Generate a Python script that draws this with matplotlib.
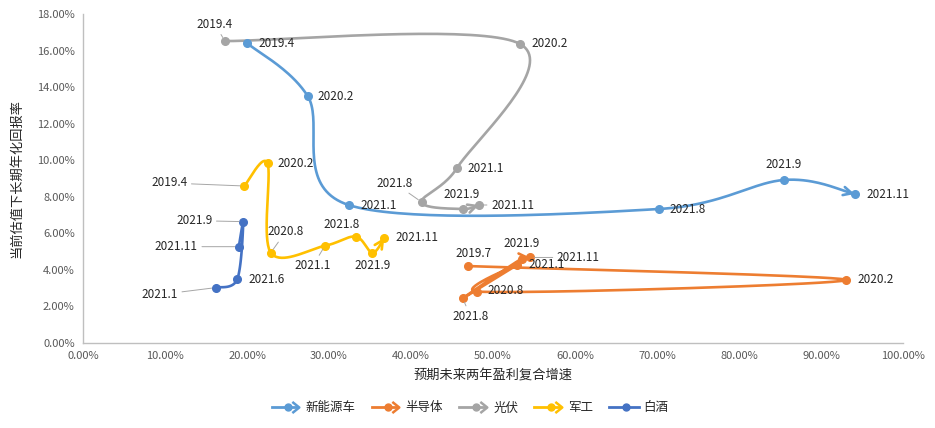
import matplotlib
matplotlib.use("Agg")
import matplotlib.pyplot as plt
import numpy as np
from matplotlib.lines import Line2D
from matplotlib.path import Path
from matplotlib.legend_handler import HandlerBase
from matplotlib.ticker import FuncFormatter, MultipleLocator

plt.rcParams["font.family"] = ["Noto Sans CJK SC", "DejaVu Sans"]

# data (x: expected 2y earnings growth %, y: long-term annualised return %)
nev_dates = ["2019.4", "2020.2", "2021.1", "2021.8", "2021.9", "2021.11"]
nev_x = [20.0, 27.4, 32.4, 70.2, 85.5, 94.1]
nev_y = [16.41, 13.51, 7.55, 7.33, 8.92, 8.15]

semi_dates = ["2019.7", "2020.2", "2020.8", "2021.1", "2021.8", "2021.9", "2021.11"]
semi_x = [46.9, 93.05, 48.1, 52.96, 46.3, 53.5, 54.5]
semi_y = [4.21, 3.45, 2.81, 4.27, 2.44, 4.62, 4.68]

pv_dates = ["2019.4", "2020.2", "2021.1", "2021.8", "2021.9", "2021.11"]
pv_x = [17.3, 53.3, 45.6, 41.3, 46.3, 48.3]
pv_y = [16.52, 16.36, 9.57, 7.71, 7.33, 7.55]

mil_dates = ["2019.4", "2020.2", "2020.8", "2021.1", "2021.8", "2021.9", "2021.11"]
mil_x = [19.67, 22.5, 22.9, 29.5, 33.25, 35.3, 36.75]
mil_y = [8.59, 9.83, 4.94, 5.32, 5.82, 4.94, 5.76]

liq_dates = ["2021.1", "2021.6", "2021.9", "2021.11"]
liq_x = [16.2, 18.8, 19.55, 19.0]
liq_y = [3.03, 3.48, 6.64, 5.27]

series = [
    ("新能源车", nev_dates, nev_x, nev_y, "#5B9BD5", True),
    ("半导体", semi_dates, semi_x, semi_y, "#ED7D31", True),
    ("光伏", pv_dates, pv_x, pv_y, "#A5A5A5", True),
    ("军工", mil_dates, mil_x, mil_y, "#FFC000", True),
    ("白酒", liq_dates, liq_x, liq_y, "#4472C4", False),
]

# label offsets in pixels (dx, dy, ha, leader line)
label_pos = {
    "新能源车": [(11, 0, "left", False), (10, 0, "left", False), (12, 0, "left", False),
             (11, 0, "left", False), (0, 15, "center", False), (12, 0, "left", False)],
    "半导体": [(6, 13, "center", False), (11, 0, "left", False), (10, 1, "left", False),
            (11, 0, "left", False), (8, -18, "center", True), (0, 15, "center", False),
            (27, 0, "left", True)],
    "光伏": [(-10, 17, "center", True), (11, 0, "left", False), (11, 0, "left", False),
           (-9, 19, "right", True), (-1, 15, "center", False), (12, 0, "left", True)],
    "军工": [(-57, 3, "right", True), (10, 0, "left", False), (15, 21, "center", True),
           (-12, -20, "center", True), (-14, 12, "center", False), (0, -13, "center", False),
           (11, 0, "left", False)],
    "白酒": [(-38, -7, "right", True), (11, 0, "left", False), (-31, 1, "right", True),
           (-41, 0, "right", True)],
}


def smooth(pts, n=40):
    # Excel-like bezier smoothing in display space
    pts = np.asarray(pts, dtype=float)
    ext = np.vstack([pts[0], pts, pts[-1]])
    out = []
    for i in range(1, len(ext) - 2):
        p0, p1, p2, p3 = ext[i - 1], ext[i], ext[i + 1], ext[i + 2]
        seg_len = np.hypot(*(p2 - p1))
        t1 = p2 - p0
        t2 = p3 - p1
        l1 = np.hypot(*t1)
        l2 = np.hypot(*t2)
        c1 = p1 + (t1 / l1 * min(l1 / 6, seg_len / 2) if l1 > 0 else 0)
        c2 = p2 - (t2 / l2 * min(l2 / 6, seg_len / 2) if l2 > 0 else 0)
        t = np.linspace(0, 1, n)[:, None]
        seg = ((1 - t) ** 3) * p1 + 3 * ((1 - t) ** 2) * t * c1 + 3 * (1 - t) * t ** 2 * c2 + t ** 3 * p2
        out.append(seg if i == 1 else seg[1:])
    return np.vstack(out)


chevron = Path([(-0.6, 0.8), (0.4, 0.0), (-0.6, -0.8)], [Path.MOVETO, Path.LINETO, Path.LINETO])


class ArrowHandler(HandlerBase):
    def __init__(self, arrow):
        super().__init__()
        self.arrow = arrow

    def create_artists(self, legend, orig, xd, yd, width, height, fontsize, trans):
        col = orig.get_color()
        y = height / 2 - yd
        x0 = -xd
        end = x0 + width * (0.85 if self.arrow else 1.0)
        arts = [Line2D([x0, end], [y, y], color=col, lw=2),
                Line2D([x0 + width * 0.55], [y], marker="o", ms=5, color=col, lw=0)]
        if self.arrow:
            arts.append(Line2D([x0 + width * 0.82], [y], marker=chevron, ms=8, color=col,
                               mfc="none", mew=1.8, lw=0))
        for a in arts:
            a.set_transform(trans)
        return arts


fig = plt.figure(figsize=(9.35, 4.28), dpi=100)
ax = fig.add_axes([83 / 935, 1 - 343 / 428, 820 / 935, 329 / 428])
ax.set_xlim(0, 100)
ax.set_ylim(0, 18)

handles, hmap = [], {}
for name, dates, xs, ys, col, arrow in series:
    disp = ax.transData.transform(np.column_stack([xs, ys]))
    curve = ax.transData.inverted().transform(smooth(disp))
    ln, = ax.plot(curve[:, 0], curve[:, 1], color=col, lw=1.9, solid_capstyle="round", zorder=3)
    ax.plot(xs, ys, "o", color=col, ms=5.5, zorder=4)
    if arrow:
        ax.annotate("", xy=curve[-1], xytext=curve[-6],
                    arrowprops=dict(arrowstyle="->", color=col, lw=1.9, mutation_scale=15,
                                    shrinkA=0, shrinkB=0), zorder=4)
    for (d, x, y, (dx, dy, ha, lead)) in zip(dates, xs, ys, label_pos[name]):
        props = None
        if lead:
            props = dict(arrowstyle="-", color="#A6A6A6", lw=0.7, shrinkA=1, shrinkB=3)
        ax.annotate(d, xy=(x, y), xytext=(dx, dy), textcoords="offset pixels",
                    ha=ha, va="center", fontsize=8.5, color="#262626",
                    arrowprops=props, zorder=5)
    handles.append(ln)
    hmap[ln] = ArrowHandler(arrow)

ax.xaxis.set_major_locator(MultipleLocator(10))
ax.yaxis.set_major_locator(MultipleLocator(2))
ax.xaxis.set_major_formatter(FuncFormatter(lambda v, p: f"{v:.2f}%"))
ax.yaxis.set_major_formatter(FuncFormatter(lambda v, p: f"{v:.2f}%"))
ax.tick_params(length=0, labelsize=8, colors="#595959", pad=6)
for s in ["top", "right"]:
    ax.spines[s].set_visible(False)
for s in ["left", "bottom"]:
    ax.spines[s].set_color("#BFBFBF")
    ax.spines[s].set_linewidth(1)

ax.set_xlabel("预期未来两年盈利复合增速", fontsize=9.5, color="#262626", labelpad=6)
ax.set_ylabel("当前估值下长期年化回报率", fontsize=9.5, color="#262626", labelpad=10)

fig.legend(handles, [s[0] for s in series], handler_map=hmap, loc="center",
           bbox_to_anchor=(470 / 935, 20 / 428), ncol=5, frameon=False, fontsize=9,
           handlelength=2.4, handletextpad=0.3, columnspacing=1.3, labelcolor="#262626")

fig.savefig("out.png", dpi=100)
